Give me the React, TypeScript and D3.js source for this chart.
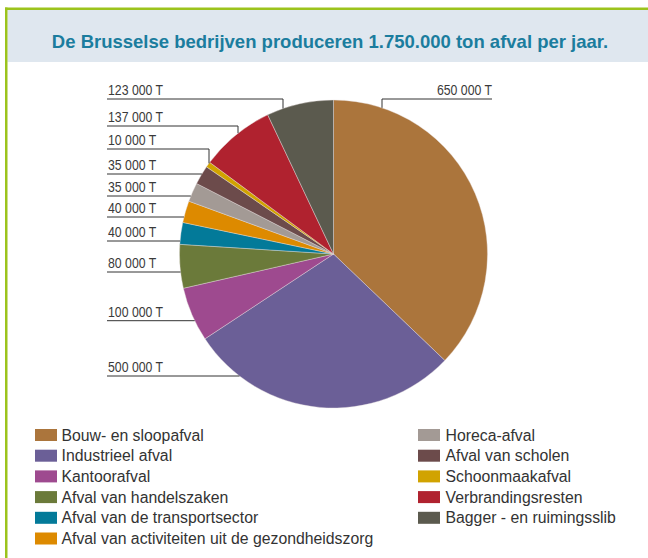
import React from "react";
import * as d3 from "d3";

const categories = [
  "Bouw- en sloopafval",
  "Industrieel afval",
  "Kantoorafval",
  "Afval van handelszaken",
  "Afval van de transportsector",
  "Afval van activiteiten uit de gezondheidszorg",
  "Horeca-afval",
  "Afval van scholen",
  "Schoonmaakafval",
  "Verbrandingsresten",
  "Bagger - en ruimingsslib",
];
const values = [650000, 500000, 100000, 80000, 40000, 40000, 35000, 35000, 10000, 137000, 123000];
const colors = [
  "#ab753c", "#6b5f97", "#9e4a8f", "#6b7a3a", "#037a99", "#dd8a00",
  "#a39a95", "#6c4b4b", "#d1a300", "#b0222f", "#5b5a4e",
];
const title = "De Brusselse bedrijven produceren 1.750.000 ton afval per jaar.";

// leader-line layout (annotation placement): line y and optional bend x
const leftLabelY = [null, 376, 320.7, 272, 241, 217, 196, 174, 149, 126, 99];
const leftBendX: (number | null)[] = [null, null, null, null, null, null, null, null, 209, 238, 283];

const W = 648, H = 558;
const cx = 333.5, cy = 254, R = 154;

const fmt = (v: number) => d3.format(",")(v).replace(/,/g, " ") + " T";

export default function App() {
  const pie = d3.pie<number>().sort(null).value((d) => d).startAngle(0).endAngle(2 * Math.PI);
  const arcs = pie(values);
  const arc = d3.arc<d3.PieArcDatum<number>>().innerRadius(0).outerRadius(R);
  const edgeX = (y: number) => cx - Math.sqrt(R * R - (y - cy) * (y - cy));
  const edgeYTop = (x: number) => cy - Math.sqrt(R * R - (x - cx) * (x - cx));
  const labelFont = "'Liberation Sans', Arial, sans-serif";

  const leftCol = categories.slice(0, 6);
  const rightCol = categories.slice(6);
  const rowY = (i: number) => 429 + i * 20.7;

  const rightBendX = 382;

  return (
    <svg width={W} height={H} style={{ position: "absolute", left: 0, top: 0 }}>
      <rect x={0} y={0} width={W} height={H} fill="#fff" />
      <rect x={7.5} y={10} width={W - 7.5} height={52} fill="#dfe7ef" />
      <rect x={5} y={7.5} width={W - 5} height={2.5} fill="#9cc31d" />
      <rect x={5} y={7.5} width={2.5} height={H - 7.5} fill="#9cc31d" />
      <text x={330} y={48} textAnchor="middle" fontFamily={labelFont} fontWeight="bold" fontSize={18.5} fill="#1b7d9e">
        {title}
      </text>

      <g transform={`translate(${cx},${cy})`}>
        {arcs.map((a, i) => (
          <path key={i} d={arc(a) || ""} fill={colors[i]} stroke="#e8e0e0" strokeWidth={0.4} />
        ))}
      </g>

      {/* leader lines */}
      <g fill="none" stroke="#333" strokeWidth={1}>
        {values.map((v, i) => {
          const y = leftLabelY[i];
          if (y == null) return null;
          const bx = leftBendX[i];
          if (bx != null) {
            return <polyline key={i} points={`107,${y} ${bx},${y} ${bx},${edgeYTop(bx)}`} />;
          }
          return <line key={i} x1={107} y1={y} x2={edgeX(y)} y2={y} />;
        })}
        <polyline points={`492,99 ${rightBendX},99 ${rightBendX},${edgeYTop(rightBendX)}`} />
      </g>

      {values.map((v, i) => {
        const y = leftLabelY[i];
        if (y == null) return null;
        return (
          <g key={i} transform={`translate(108,${y - 4}) scale(0.82,1)`}>
            <text fontFamily={labelFont} fontSize={15} fill="#3a3a3a">{fmt(v)}</text>
          </g>
        );
      })}
      <g transform={`translate(492,95) scale(0.82,1)`}>
        <text textAnchor="end" fontFamily={labelFont} fontSize={15} fill="#3a3a3a">{fmt(values[0])}</text>
      </g>

      {/* legend */}
      {leftCol.map((c, i) => (
        <g key={c} transform={`translate(35,${rowY(i)})`}>
          <rect width={22} height={12} fill={colors[i]} />
          <text x={26.5} y={11.5} fontFamily={labelFont} fontSize={15.8} fill="#333">{c}</text>
        </g>
      ))}
      {rightCol.map((c, i) => (
        <g key={c} transform={`translate(418,${rowY(i)})`}>
          <rect width={22} height={12} fill={colors[i + 6]} />
          <text x={27.5} y={11.5} fontFamily={labelFont} fontSize={15.8} fill="#333">{c}</text>
        </g>
      ))}
    </svg>
  );
}
